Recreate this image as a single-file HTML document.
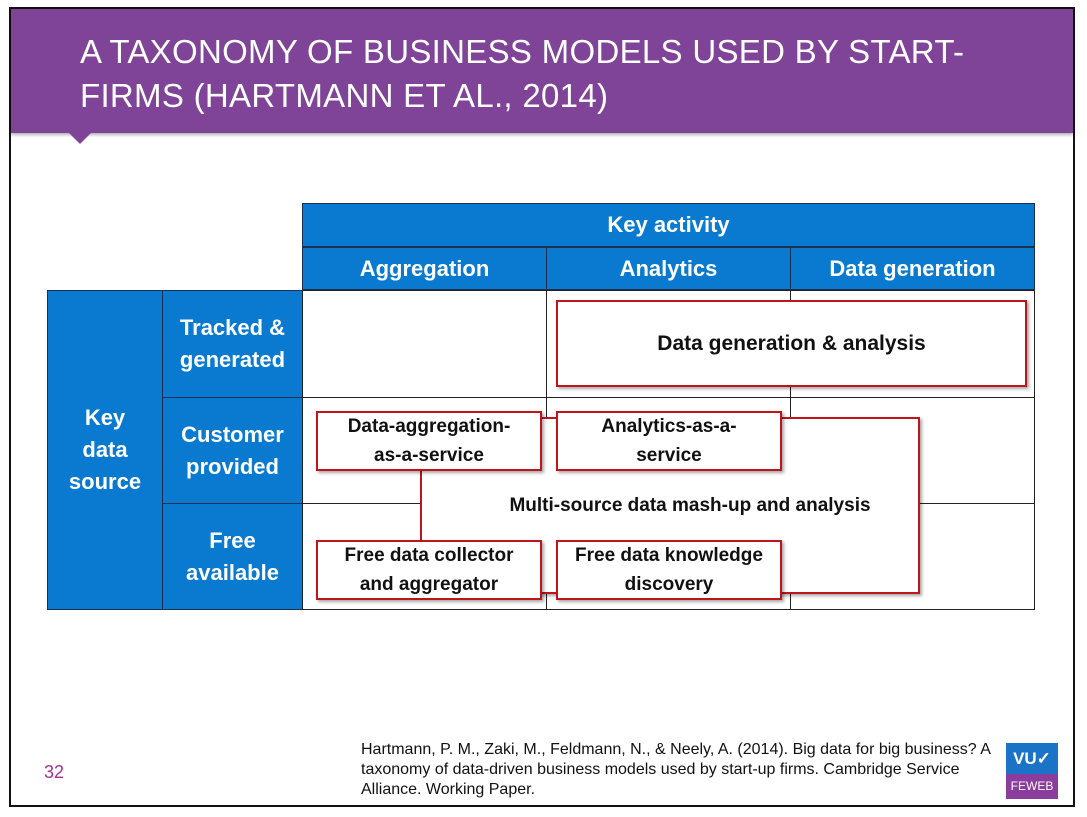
<!DOCTYPE html>
<html><head><meta charset="utf-8"><style>
body{margin:0;width:1087px;height:817px;background:#fff;position:relative;overflow:hidden;font-family:"Liberation Sans",sans-serif}
.a{position:absolute;box-sizing:border-box}
.blue{background:#0a7ad0;color:#fff;font-weight:bold;display:flex;align-items:center;justify-content:center;text-align:center;border:1px solid #1b3050;font-size:22px;line-height:32px}
.cell{border:1px solid #222;background:#fff}
.red{background:#fff;border:2px solid #c0141c;box-shadow:2px 2px 3px rgba(0,0,0,.35);display:flex;align-items:center;justify-content:center;text-align:center;font-weight:bold;font-size:19px;line-height:29px;color:#111}
</style></head><body>
<div class="a" style="left:9px;top:7px;width:1066px;height:800px;border:2px solid #111"></div>
<div class="a" style="left:11px;top:9px;width:1062px;height:124px;background:#7f4397;box-shadow:0 2px 3px rgba(0,0,0,.3)"></div>
<div class="a" style="left:69px;top:133px;width:0;height:0;border-left:11px solid transparent;border-right:11px solid transparent;border-top:11px solid #7f4397"></div>
<div class="a" style="left:80px;top:30px;color:#fff;font-size:33px;line-height:44px;letter-spacing:0.3px">A TAXONOMY OF BUSINESS MODELS USED BY START-<br>FIRMS (HARTMANN ET AL., 2014)</div>

<div class="a blue" style="left:302px;top:203px;width:733px;height:44px">Key activity</div>
<div class="a blue" style="left:302px;top:247px;width:245px;height:43px">Aggregation</div>
<div class="a blue" style="left:546px;top:247px;width:245px;height:43px">Analytics</div>
<div class="a blue" style="left:790px;top:247px;width:245px;height:43px">Data generation</div>
<div class="a blue" style="left:47px;top:290px;width:116px;height:320px">Key<br>data<br>source</div>
<div class="a blue" style="left:162px;top:290px;width:141px;height:108px">Tracked &amp;<br>generated</div>
<div class="a blue" style="left:162px;top:397px;width:141px;height:107px">Customer<br>provided</div>
<div class="a blue" style="left:162px;top:503px;width:141px;height:107px">Free<br>available</div>

<div class="a cell" style="left:302px;top:290px;width:245px;height:108px"></div>
<div class="a cell" style="left:546px;top:290px;width:245px;height:108px"></div>
<div class="a cell" style="left:790px;top:290px;width:245px;height:108px"></div>
<div class="a cell" style="left:302px;top:397px;width:245px;height:107px"></div>
<div class="a cell" style="left:546px;top:397px;width:245px;height:107px"></div>
<div class="a cell" style="left:790px;top:397px;width:245px;height:107px"></div>
<div class="a cell" style="left:302px;top:503px;width:245px;height:107px"></div>
<div class="a cell" style="left:546px;top:503px;width:245px;height:107px"></div>
<div class="a cell" style="left:790px;top:503px;width:245px;height:107px"></div>

<div class="a red" style="left:556px;top:300px;width:471px;height:87px;font-size:21px">Data generation &amp; analysis</div>
<div class="a red" style="left:420px;top:417px;width:500px;height:177px;padding-left:40px">Multi-source data mash-up and analysis</div>
<div class="a red" style="left:316px;top:411px;width:226px;height:60px">Data-aggregation-<br>as-a-service</div>
<div class="a red" style="left:556px;top:411px;width:226px;height:60px">Analytics-as-a-<br>service</div>
<div class="a red" style="left:316px;top:540px;width:226px;height:60px">Free data collector<br>and aggregator</div>
<div class="a red" style="left:556px;top:540px;width:226px;height:60px">Free data knowledge<br>discovery</div>

<div class="a" style="left:44px;top:762px;color:#a0338f;font-size:18px">32</div>
<div class="a" style="left:361px;top:740px;font-size:16px;line-height:20px;color:#111;white-space:nowrap">Hartmann, P. M., Zaki, M., Feldmann, N., &amp; Neely, A. (2014). Big data for big business? A<br>taxonomy of data-driven business models used by start-up firms. Cambridge Service<br>Alliance. Working Paper.</div>
<div class="a" style="left:1006px;top:743px;width:52px;height:31px;background:#1a73c6;color:#fff;font-weight:bold;font-size:17px;text-align:center;line-height:31px">VU✓</div>
<div class="a" style="left:1006px;top:774px;width:52px;height:25px;background:#8a3d9c;color:#fff;font-size:12px;text-align:center;line-height:25px">FEWEB</div>
</body></html>
